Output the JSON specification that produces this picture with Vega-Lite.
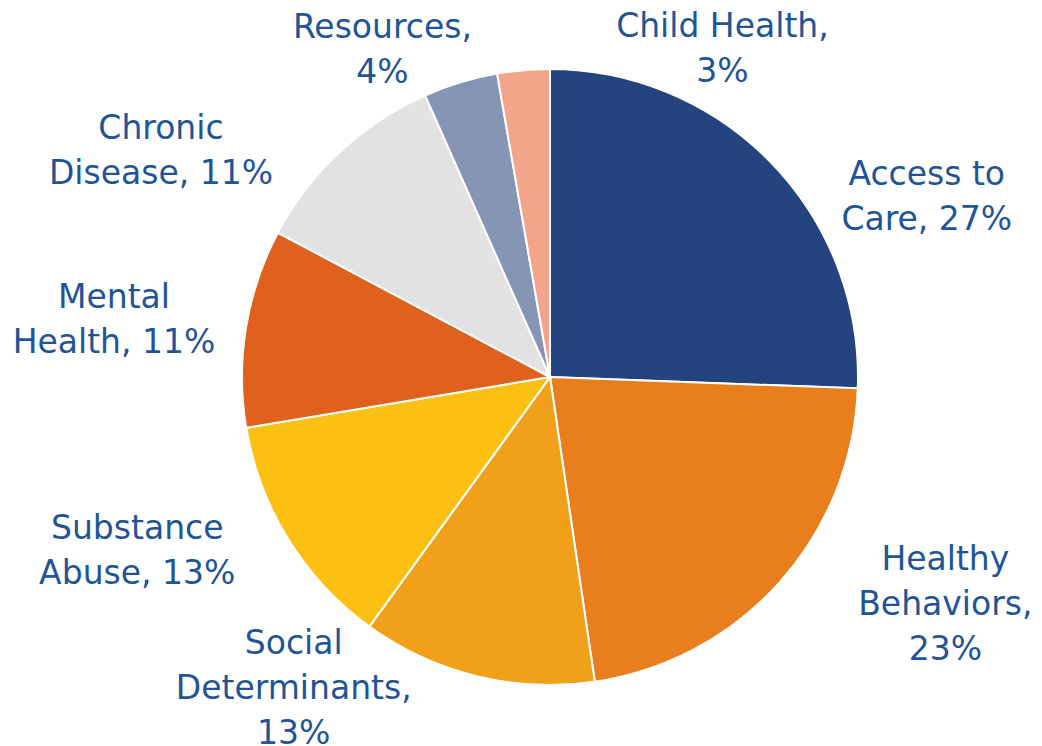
{
  "$schema": "https://vega.github.io/schema/vega-lite/v6.json",
  "width": 984,
  "height": 738,
  "autosize": "none",
  "padding": {"left": 58, "top": 8, "right": 0, "bottom": 0},
  "background": "white",
  "view": {"stroke": null},
  "config": {
    "text": {"font": "DejaVu Sans", "fontSize": 33, "color": "#1F5597", "lineBreak": "\n", "lineHeight": 45, "align": "center", "baseline": "middle", "radius": 308}
  },
  "data": {
    "values": [
      {"category": "Access to Care", "value": 25.6, "label": "Access to\nCare, 27%"},
      {"category": "Healthy Behaviors", "value": 22.1, "label": "Healthy\nBehaviors,\n23%"},
      {"category": "Social Determinants", "value": 12.3, "label": "Social\nDeterminants,\n13%"},
      {"category": "Substance Abuse", "value": 12.4, "label": "Substance\nAbuse, 13%"},
      {"category": "Mental Health", "value": 10.4, "label": "Mental\nHealth, 11%"},
      {"category": "Chronic Disease", "value": 10.6, "label": "Chronic\nDisease, 11%"},
      {"category": "Resources", "value": 3.9, "label": "Resources,\n4%"},
      {"category": "Child Health", "value": 2.75, "label": "Child Health,\n3%"}
    ]
  },
  "transform": [
    {"window": [{"op": "row_number", "as": "idx"}]},
    {"stack": "value", "groupby": [], "sort": [{"field": "idx", "order": "ascending"}], "as": ["v0", "v1"]},
    {"calculate": "(datum.v0 + datum.v1) / 2", "as": "mid"}
  ],
  "layer": [
    {
      "mark": {"type": "arc", "outerRadius": 308, "stroke": "white", "strokeWidth": 2},
      "encoding": {
        "theta": {"field": "v0", "type": "quantitative", "stack": null, "scale": {"domain": [0, 100.05]}},
        "theta2": {"field": "v1"},
        "color": {
          "field": "category", "type": "nominal", "legend": null,
          "scale": {
            "domain": ["Access to Care", "Healthy Behaviors", "Social Determinants", "Substance Abuse", "Mental Health", "Chronic Disease", "Resources", "Child Health"],
            "range": ["#23447F", "#E97E1C", "#F0A019", "#FBC012", "#E0611E", "#E2E2E2", "#8795B5", "#F2A589"]
          }
        }
      }
    },
    {
      "transform": [{"filter": {"field": "category", "equal": "Access to Care"}}],
      "mark": {"type": "text", "dx": 155, "dy": 12},
      "encoding": {"theta": {"field": "mid", "type": "quantitative", "stack": null}, "text": {"field": "label"}}
    },
    {
      "transform": [{"filter": {"field": "category", "equal": "Healthy Behaviors"}}],
      "mark": {"type": "text", "dx": 166, "dy": -23},
      "encoding": {"theta": {"field": "mid", "type": "quantitative", "stack": null}, "text": {"field": "label"}}
    },
    {
      "transform": [{"filter": {"field": "category", "equal": "Social Determinants"}}],
      "mark": {"type": "text", "dx": -183, "dy": -32},
      "encoding": {"theta": {"field": "mid", "type": "quantitative", "stack": null}, "text": {"field": "label"}}
    },
    {
      "transform": [{"filter": {"field": "category", "equal": "Substance Abuse"}}],
      "mark": {"type": "text", "dx": -151, "dy": -10},
      "encoding": {"theta": {"field": "mid", "type": "quantitative", "stack": null}, "text": {"field": "label"}}
    },
    {
      "transform": [{"filter": {"field": "category", "equal": "Mental Health"}}],
      "mark": {"type": "text", "dx": -132, "dy": -30},
      "encoding": {"theta": {"field": "mid", "type": "quantitative", "stack": null}, "text": {"field": "label"}}
    },
    {
      "transform": [{"filter": {"field": "category", "equal": "Chronic Disease"}}],
      "mark": {"type": "text", "dx": -179, "dy": -23},
      "encoding": {"theta": {"field": "mid", "type": "quantitative", "stack": null}, "text": {"field": "label"}}
    },
    {
      "transform": [{"filter": {"field": "category", "equal": "Resources"}}],
      "mark": {"type": "text", "dx": -78, "dy": -54},
      "encoding": {"theta": {"field": "mid", "type": "quantitative", "stack": null}, "text": {"field": "label"}}
    },
    {
      "transform": [{"filter": {"field": "category", "equal": "Child Health"}}],
      "mark": {"type": "text", "dx": 199, "dy": -43},
      "encoding": {"theta": {"field": "mid", "type": "quantitative", "stack": null}, "text": {"field": "label"}}
    }
  ]
}
